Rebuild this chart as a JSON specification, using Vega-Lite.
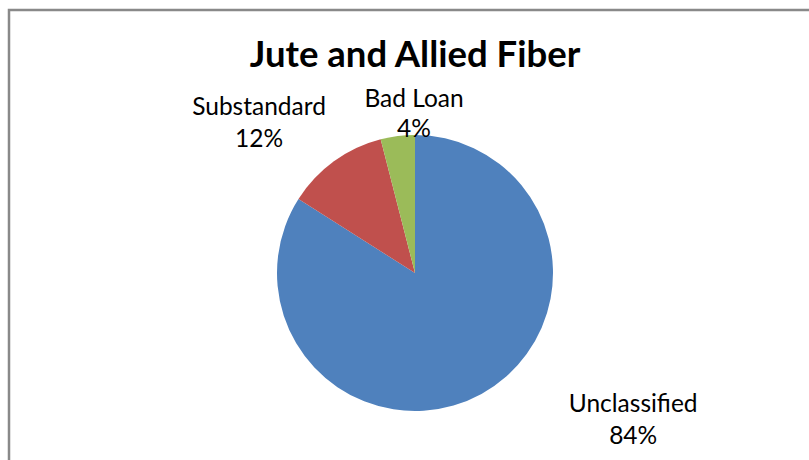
{
  "$schema": "https://vega.github.io/schema/vega-lite/v6.json",
  "autosize": "none",
  "width": 812,
  "height": 526,
  "padding": {"left": 9, "top": 10, "right": 0, "bottom": 0},
  "background": "white",
  "view": {"stroke": "#898989", "strokeWidth": 2.5},
  "title": {
    "text": "Jute and Allied Fiber",
    "font": "Lato",
    "fontSize": 36.5,
    "fontWeight": "bold",
    "color": "#000000",
    "anchor": "middle",
    "baseline": "top",
    "offset": -64
  },
  "data": {
    "values": [
      {"category": "Unclassified", "value": 84, "pct": "84%"},
      {"category": "Substandard", "value": 12, "pct": "12%"},
      {"category": "Bad Loan", "value": 4, "pct": "4%"}
    ]
  },
  "transform": [
    {"stack": "value", "groupby": [], "sort": [{"field": "value", "order": "descending"}], "as": ["v0", "v1"]},
    {"calculate": "(datum.v0 + datum.v1) / 2", "as": "mid"},
    {"calculate": "datum.category + '\\n' + datum.pct", "as": "label"}
  ],
  "layer": [
    {
      "mark": {"type": "arc", "outerRadius": 138},
      "encoding": {
        "theta": {"field": "v0", "type": "quantitative", "scale": {"domain": [0, 100]}},
        "theta2": {"field": "v1"},
        "color": {
          "field": "category",
          "type": "nominal",
          "scale": {"domain": ["Unclassified", "Substandard", "Bad Loan"], "range": ["#4F81BD", "#C0504D", "#9BBB59"]},
          "legend": null
        }
      }
    },
    {
      "transform": [{"filter": "datum.category === 'Unclassified'"}],
      "mark": {"type": "text", "radius": 255, "thetaOffset": -0.524, "font": "Lato", "fontSize": 24.5, "lineBreak": "\n", "lineHeight": 32, "align": "center", "baseline": "middle", "color": "#000000"},
      "encoding": {
        "theta": {"field": "mid", "type": "quantitative", "scale": {"domain": [0, 100]}},
        "text": {"field": "label"}
      }
    },
    {
      "transform": [{"filter": "datum.category === 'Substandard'"}],
      "mark": {"type": "text", "radius": 227, "thetaOffset": -0.129, "font": "Lato", "fontSize": 24.5, "lineBreak": "\n", "lineHeight": 32, "align": "center", "baseline": "middle", "color": "#000000"},
      "encoding": {
        "theta": {"field": "mid", "type": "quantitative", "scale": {"domain": [0, 100]}},
        "text": {"field": "label"}
      }
    },
    {
      "transform": [{"filter": "datum.category === 'Bad Loan'"}],
      "mark": {"type": "text", "radius": 173, "thetaOffset": 0.12, "font": "Lato", "fontSize": 24.5, "lineBreak": "\n", "lineHeight": 30, "align": "center", "baseline": "middle", "color": "#000000"},
      "encoding": {
        "theta": {"field": "mid", "type": "quantitative", "scale": {"domain": [0, 100]}},
        "text": {"field": "label"}
      }
    }
  ]
}
